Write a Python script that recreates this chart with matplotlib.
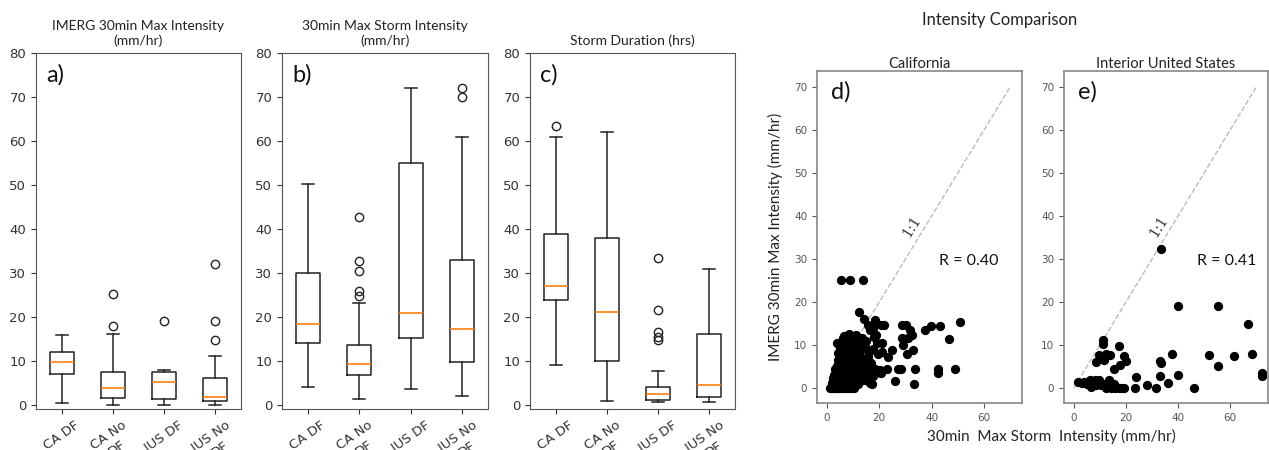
import matplotlib
matplotlib.use("Agg")
import matplotlib.pyplot as plt

# Box plot groups
groups = ["CA DF", "CA No\nDF", "IUS DF", "IUS No\nDF"]

# a) IMERG 30min max intensity (mm/hr)
imerg_lo = [0.3, 0.0, 0.0, 0.0]
imerg_q1 = [7.0, 1.5, 1.2, 0.9]
imerg_med = [9.8, 3.7, 5.1, 1.8]
imerg_q3 = [12.0, 7.5, 7.4, 6.0]
imerg_hi = [15.8, 16.0, 7.9, 11.1]
imerg_fliers = [[], [17.8, 25.1], [19.0], [14.8, 19.0, 32.1]]

# b) 30min max storm intensity (mm/hr)
storm_lo = [4.0, 1.2, 3.5, 2.0]
storm_q1 = [14.0, 6.8, 15.2, 9.6]
storm_med = [18.3, 9.2, 20.8, 17.2]
storm_q3 = [30.0, 13.6, 55.0, 33.0]
storm_hi = [50.3, 23.2, 72.0, 61.0]
storm_fliers = [[], [24.8, 25.8, 30.3, 32.7, 42.6], [], [70.0, 72.0]]

# c) storm duration (hrs)
dur_lo = [9.0, 0.8, 0.5, 0.5]
dur_q1 = [23.8, 9.9, 1.0, 1.7]
dur_med = [27.0, 21.0, 2.5, 4.5]
dur_q3 = [38.8, 38.0, 4.0, 16.0]
dur_hi = [61.0, 62.0, 7.7, 30.8]
dur_fliers = [[63.5], [], [14.8, 15.3, 16.5, 21.5, 33.3], []]

# d) California: storm intensity vs IMERG intensity
ca_storm = [5.2, 8.9, 13.7, 12.3, 14.2, 18.5, 15.7, 20.6, 21.9, 16.5, 18.8, 17.6,
            28.6, 30.1, 31.6, 37.3, 39.6, 43.2, 50.9, 46.8, 32.7, 30.6, 28.9, 28.6,
            30.8, 32.4, 24.8, 23.2, 20.9, 21.0,
            48.9, 42.5, 42.5, 33.8, 33.2, 26.0, 28.2, 27.0, 22.8, 20.6, 18.5, 17.2, 18.1,
            1.0, 1.5, 2.2, 3.0, 3.8, 4.6, 5.5, 6.5, 7.5, 8.5, 9.5, 10.5,
            2.0, 3.5, 5.0, 6.0, 7.8, 9.0, 10.6, 12.0, 14.4,
            2.4, 4.3, 6.2, 8.1, 9.8, 11.9, 13.2, 15.7, 17.5, 18.8,
            3.7, 4.8, 5.9, 7.5, 8.6, 10.2, 11.9, 13.0, 14.8, 16.1, 17.0,
            3.0, 4.1, 5.2, 6.5, 7.8, 9.4, 10.8, 12.5, 14.0, 15.7,
            4.3, 5.6, 7.0, 8.4, 9.8, 11.2, 12.8, 14.4, 16.0, 17.5,
            3.7, 5.0, 6.2, 7.2, 8.1, 9.6, 10.6, 11.9, 12.5, 13.5, 15.0,
            6.5, 8.5, 11.0, 9.0, 10.0, 7.0, 5.5, 12.5, 16.5, 13.8, 6.8,
            2.8, 4.0, 11.5, 9.2, 15.2, 13.5, 20.2, 19.5, 19.0]
ca_imerg = [25.2, 25.2, 25.2, 17.7, 16.1, 15.8, 14.6, 14.6, 14.6, 13.5, 12.3, 13.9,
            14.6, 14.6, 13.5, 13.5, 14.5, 14.5, 15.3, 11.4, 8.9, 7.8, 10.0, 11.6,
            11.6, 12.4, 8.9, 7.3, 10.4, 8.3,
            4.3, 4.3, 3.5, 4.3, 0.9, 1.6, 4.3, 4.3, 4.3, 3.5, 4.3, 1.0, 11.9,
            0.0, 0.0, 0.0, 0.0, 0.0, 0.0, 0.0, 0.0, 0.0, 0.0, 0.0, 0.0,
            1.1, 1.5, 0.8, 1.9, 1.5, 1.2, 1.9, 1.0, 1.9,
            2.2, 3.4, 2.6, 3.4, 2.7, 3.0, 2.5, 3.0, 2.8, 3.4,
            5.0, 4.2, 5.5, 5.0, 4.3, 5.8, 5.0, 4.2, 4.5, 3.8, 5.8,
            4.5, 6.5, 7.3, 6.5, 7.8, 7.3, 6.5, 7.5, 6.6, 7.3,
            8.1, 8.5, 8.2, 8.8, 8.2, 8.9, 8.5, 9.6, 8.3, 9.0,
            10.5, 9.2, 11.5, 10.2, 11.2, 10.0, 11.9, 8.8, 10.8, 11.5, 11.0,
            12.0, 12.5, 12.3, 9.5, 4.0, 3.0, 2.0, 1.5, 1.2, 6.0, 9.8,
            3.0, 1.0, 6.2, 5.5, 5.5, 3.5, 4.2, 8.0, 10.5]

# e) Interior United States
ius_storm = [33.3, 40.1, 55.2, 66.8, 52.0, 61.3, 68.4, 55.2, 72.3, 72.3,
             37.7, 33.3, 33.2, 40.1, 36.1, 31.5, 28.0, 24.0, 23.5, 46.2,
             19.1, 17.2, 20.0, 19.4, 17.2, 15.5, 17.8, 11.2, 11.2, 12.3,
             13.7, 9.8, 8.5, 11.7, 1.7, 3.0, 4.9, 6.2, 6.5, 8.1,
             8.5, 9.8, 10.3, 12.0, 13.3, 13.9, 15.2, 12.3, 14.3, 15.6,
             7.5, 9.0, 4.0, 33.0, 18.0]
ius_imerg = [32.2, 19.0, 19.0, 14.8, 7.7, 7.4, 7.8, 5.1, 3.5, 2.8,
             7.8, 5.9, 2.8, 2.9, 1.2, 0.0, 0.8, 2.5, 0.0, 0.0,
             0.0, 0.0, 6.2, 7.5, 9.8, 4.5, 5.3, 11.1, 10.3, 8.0,
             7.6, 7.6, 6.0, 6.4, 1.4, 1.2, 1.0, 1.8, 0.2, 1.8,
             0.6, 1.8, 0.6, 1.0, 1.8, 0.6, 1.0, 0.0, 0.0, 0.0,
             1.0, 1.2, 1.4, 6.2, 0.0]

ca_r = 0.40
ius_r = 0.41

txt_font = ["Lato", "DejaVu Sans"]
W, H = 1269, 450


def _rect(left, top, right, bottom):
    return [left / W, 1 - bottom / H, (right - left) / W, (bottom - top) / H]


def _stats(lo, q1, med, q3, hi, fliers):
    return [dict(whislo=lo[i], q1=q1[i], med=med[i], q3=q3[i], whishi=hi[i],
                 fliers=fliers[i], label=groups[i]) for i in range(len(groups))]


fig = plt.figure(figsize=(W / 100, H / 100), dpi=100)

# Box plot panels
box_panels = [
    (_rect(36, 53, 241, 409), _stats(imerg_lo, imerg_q1, imerg_med, imerg_q3, imerg_hi, imerg_fliers),
     "IMERG 30min Max Intensity\n(mm/hr)", "a)"),
    (_rect(282, 53, 488, 409), _stats(storm_lo, storm_q1, storm_med, storm_q3, storm_hi, storm_fliers),
     "30min Max Storm Intensity\n(mm/hr)", "b)"),
    (_rect(530, 53, 735, 409), _stats(dur_lo, dur_q1, dur_med, dur_q3, dur_hi, dur_fliers),
     "Storm Duration (hrs)", "c)"),
]
for rect, stats, title, letter in box_panels:
    ax = fig.add_axes(rect)
    ax.bxp(stats, widths=0.47,
           medianprops=dict(color="#ff7f0e", linewidth=1.2),
           boxprops=dict(color="#222222", linewidth=1.1),
           whiskerprops=dict(color="#222222", linewidth=1.1),
           capprops=dict(color="#222222", linewidth=1.1),
           flierprops=dict(marker="o", markerfacecolor="none",
                           markeredgecolor="#222222", markersize=6))
    ax.set_ylim(-1, 80)
    ax.set_xlim(0.5, 4.5)
    ax.set_yticks(range(0, 81, 10))
    ax.tick_params(axis="y", labelsize=9.5, colors="#333333")
    ax.tick_params(axis="x", labelsize=9.5, colors="#333333")
    for lab in ax.get_xticklabels():
        lab.set_rotation(35)
        lab.set_ha("center")
    for sp in ax.spines.values():
        sp.set_color("#555555")
    ax.set_title(title, fontsize=10, family=txt_font, color="#222222", pad=6)
    ax.text(0.05, 0.97, letter, transform=ax.transAxes, fontsize=17,
            family=txt_font, va="top", ha="left", color="#111111")

# Scatter panels
scatter_panels = [
    (_rect(817, 71, 1022, 403), ca_storm, ca_imerg, "California", "d)", ca_r, 54),
    (_rect(1064, 71, 1268, 403), ius_storm, ius_imerg, "Interior United States", "e)", ius_r, 58.5),
]
for i, (rect, xs, ys, title, letter, r, rx) in enumerate(scatter_panels):
    ax = fig.add_axes(rect)
    ax.plot([0, 70], [0, 70], ls="--", color="#bbbbbb", lw=1.0, zorder=1)
    ax.scatter(xs, ys, s=32, color="black", zorder=2)
    ax.set_xlim(-3.8, 74.5)
    ax.set_ylim(-3.5, 73.7)
    ax.set_xticks([0, 20, 40, 60])
    ax.set_yticks(range(0, 71, 10))
    ax.tick_params(labelsize=7.5, colors="#555555")
    for sp in ax.spines.values():
        sp.set_color("#888888")
        sp.set_linewidth(1.2)
    ax.set_title(title, fontsize=10.5, family=txt_font, color="#222222", pad=2)
    ax.text(0.07, 0.97, letter, transform=ax.transAxes, fontsize=17,
            family=txt_font, va="top", ha="left", color="#111111")
    ax.text(32.5, 37.5, "1:1", rotation=58, fontsize=10, family="DejaVu Serif",
            ha="center", va="center", color="#333333")
    ax.text(rx, 29.5, f"R = {r:.2f}", fontsize=11.5, family=txt_font,
            ha="center", va="center", color="#111111")
    if i == 0:
        ax.set_ylabel("IMERG 30min Max Intensity (mm/hr)", fontsize=11,
                      family=txt_font, color="#222222", labelpad=8)

fig.text(1000 / W, 1 - 20 / H, "Intensity Comparison", fontsize=12,
         family=txt_font, ha="center", va="center", color="#222222")
fig.text(1051 / W, 1 - 436 / H, "30min  Max Storm  Intensity (mm/hr)", fontsize=11,
         family=txt_font, ha="center", va="center", color="#222222")

fig.savefig("out.png", dpi=100)
